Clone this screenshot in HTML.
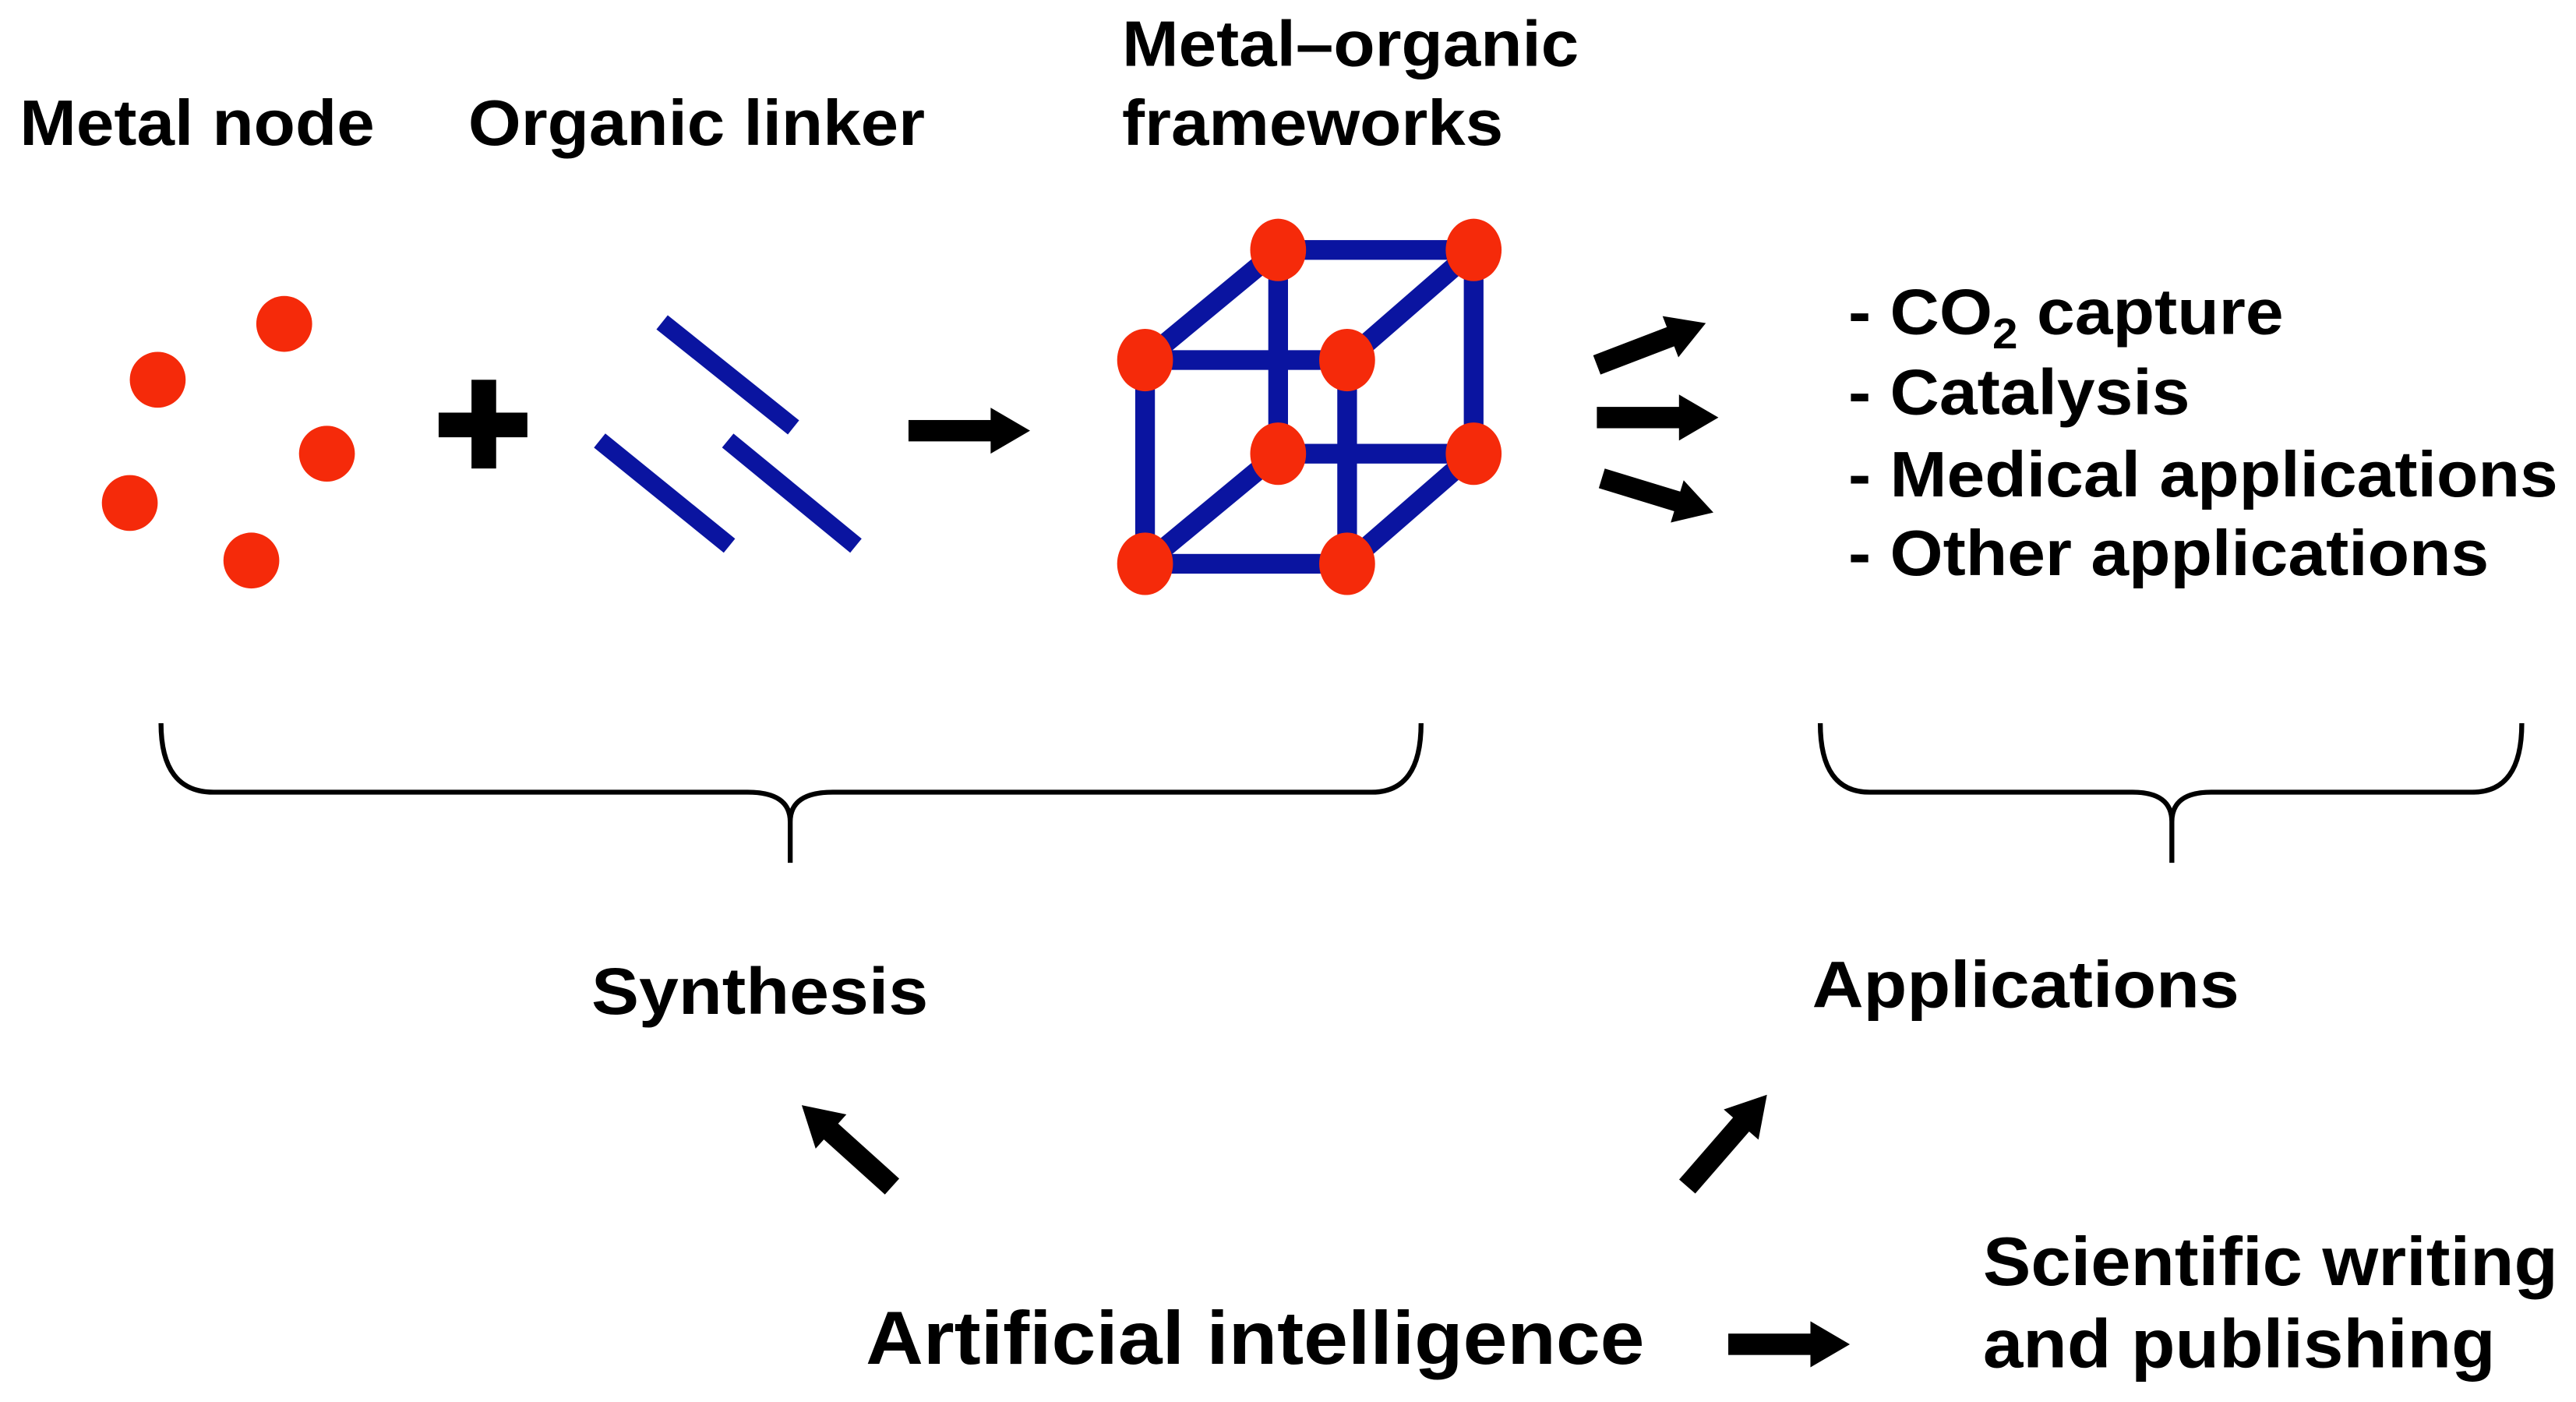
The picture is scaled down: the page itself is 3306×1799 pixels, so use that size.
<!DOCTYPE html>
<html><head><meta charset="utf-8"><style>html,body{margin:0;padding:0;background:#fff;}svg{display:block}</style></head>
<body>
<svg width="3306" height="1799" viewBox="0 0 1568 853" xmlns="http://www.w3.org/2000/svg" font-family="Liberation Sans, Arial, sans-serif" font-weight="bold">
<defs>
<g id="arr"><rect x="0" y="-6.5" width="54" height="13" fill="#000"/><polygon points="50,-14 74,0 50,14" fill="#000"/></g>
</defs>
<g fill="#000">
<text x="12" y="88" font-size="39" textLength="216" lengthAdjust="spacingAndGlyphs">Metal node</text>
<text x="285" y="88" font-size="39" textLength="278" lengthAdjust="spacingAndGlyphs">Organic linker</text>
<text x="683" y="40" font-size="39" textLength="278" lengthAdjust="spacingAndGlyphs">Metal–organic</text>
<text x="683" y="88" font-size="39" textLength="232" lengthAdjust="spacingAndGlyphs">frameworks</text>
<text x="1125" y="203" font-size="39" textLength="265" lengthAdjust="spacingAndGlyphs">- CO<tspan font-size="26" dy="9">2</tspan><tspan dy="-9"> capture</tspan></text>
<text x="1125" y="252" font-size="39" textLength="208" lengthAdjust="spacingAndGlyphs">- Catalysis</text>
<text x="1125" y="302" font-size="39" textLength="432" lengthAdjust="spacingAndGlyphs">- Medical applications</text>
<text x="1125" y="350" font-size="39" textLength="390" lengthAdjust="spacingAndGlyphs">- Other applications</text>
<text x="360" y="617" font-size="40" textLength="205" lengthAdjust="spacingAndGlyphs">Synthesis</text>
<text x="1103" y="613" font-size="40" textLength="260" lengthAdjust="spacingAndGlyphs">Applications</text>
<text x="527" y="830" font-size="46" textLength="474" lengthAdjust="spacingAndGlyphs">Artificial intelligence</text>
<text x="1207" y="782" font-size="42" textLength="350" lengthAdjust="spacingAndGlyphs">Scientific writing</text>
<text x="1207" y="832" font-size="42" textLength="312" lengthAdjust="spacingAndGlyphs">and publishing</text>
</g>
<g fill="#f52a0a">
<circle cx="173" cy="197" r="17"/><circle cx="96" cy="231" r="17"/><circle cx="199" cy="276" r="17"/><circle cx="79" cy="306" r="17"/><circle cx="153" cy="341" r="17"/>
</g>
<rect x="267" y="251" width="54" height="15" fill="#000"/><rect x="287" y="231" width="15" height="54" fill="#000"/>
<g stroke="#0a14a0" stroke-width="11">
<line x1="403" y1="196" x2="483" y2="260"/><line x1="365" y1="268" x2="444" y2="332"/><line x1="443" y1="268" x2="521" y2="332"/>
</g>
<g stroke="#0a14a0" stroke-width="12" fill="none">
<rect x="697" y="219" width="123" height="124"/>
<rect x="778" y="152" width="119" height="124"/>
<line x1="697" y1="219" x2="778" y2="152"/><line x1="820" y1="219" x2="897" y2="152"/>
<line x1="697" y1="343" x2="778" y2="276"/><line x1="820" y1="343" x2="897" y2="276"/>
</g>
<g fill="#f52a0a">
<ellipse cx="697" cy="219" rx="17" ry="19"/><ellipse cx="820" cy="219" rx="17" ry="19"/>
<ellipse cx="697" cy="343" rx="17" ry="19"/><ellipse cx="820" cy="343" rx="17" ry="19"/>
<ellipse cx="778" cy="152" rx="17" ry="19"/><ellipse cx="897" cy="152" rx="17" ry="19"/>
<ellipse cx="778" cy="276" rx="17" ry="19"/><ellipse cx="897" cy="276" rx="17" ry="19"/>
</g>
<use href="#arr" transform="translate(553,262)"/>
<use href="#arr" transform="translate(972,222) rotate(-21) scale(0.96)"/>
<use href="#arr" transform="translate(972,254)"/>
<use href="#arr" transform="translate(975,291) rotate(17) scale(0.96)"/>
<use href="#arr" transform="translate(543,722) rotate(-138)"/>
<use href="#arr" transform="translate(1027,722) rotate(-49)"/>
<use href="#arr" transform="translate(1052,818)"/>
<g stroke="#000" stroke-width="3" fill="none">
<path d="M98,440 Q98,482 130,482 L455,482 Q481,482 481,500 L481,525 M481,500 Q481,482 507,482 L835,482 Q865,482 865,440"/>
<path d="M1108,440 Q1108,482 1138,482 L1298,482 Q1322,482 1322,500 L1322,525 M1322,500 Q1322,482 1346,482 L1505,482 Q1535,482 1535,440"/>
</g>
</svg>
</body></html>
